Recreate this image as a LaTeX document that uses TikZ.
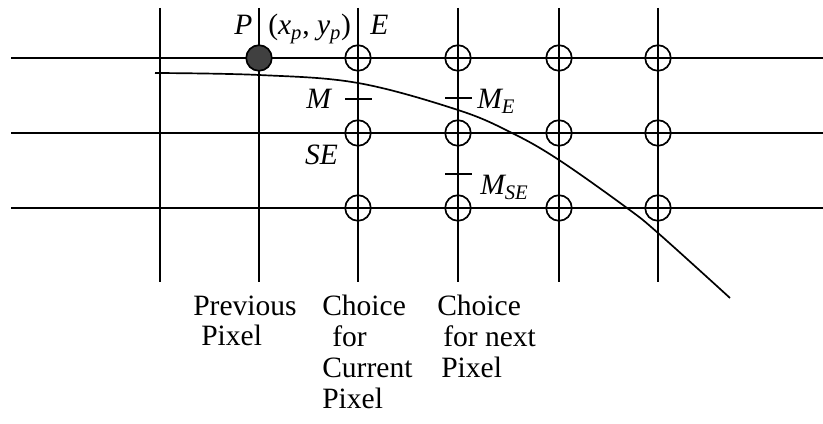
\documentclass[tikz,border=0pt]{standalone}
\usepackage{fontspec}
\setmainfont{Liberation Serif}
\usetikzlibrary{positioning}

\tikzset{
    grid line/.style={line width=1.2pt},
    pix/.style={circle, draw, line width=1.2pt, minimum size=0.64cm, inner sep=0pt},
    lbl/.style={inner sep=0pt, anchor=base west, font=\fontsize{21}{23}\selectfont\itshape},
    caption/.style={inner sep=0pt, anchor=north west, align=left, font=\fontsize{21}{22}\selectfont}
}

\begin{document}
\begin{tikzpicture}
    \useasboundingbox (0,0) rectangle (20.575,10.6);

    % --- 网格线 ---
    \foreach \y in {9.15, 7.275, 5.4}
        \draw[grid line] (0.28,\y) -- (20.575,\y);
    \foreach \x in {4, 6.475, 8.95, 11.45, 13.975, 16.45}
        \draw[grid line] (\x,10.4) -- (\x,3.55);

    % --- 像素点 ---
    \node[pix, fill=black!75] (prev) at (6.475, 9.15) {};
    \foreach \x [count=\i] in {8.95, 11.45, 13.975, 16.45}
        \foreach \y [count=\j] in {9.15, 7.275, 5.4}
            \node[pix] (c-\i-\j) at (\x,\y) {};

    % --- 中点刻度 ---
    \draw[grid line] (8.625, 8.125) -- (9.3, 8.125);
    \draw[grid line] (11.125, 8.15) -- (11.8, 8.15);
    \draw[grid line] (11.125, 6.25) -- (11.8, 6.25);

    % --- 曲线 ---
    \draw[grid line] plot[smooth, tension=0.6] coordinates {
        (3.875, 8.775) (6.475, 8.725) (8.95, 8.525) (11.45, 7.85)
        (12.8, 7.275) (13.975, 6.6) (15.675, 5.4) (16.45, 4.775) (18.25, 3.15)};

    % --- 标签 ---
    \node[lbl] (lP) at (5.85, 9.725) {P};
    \node[lbl] (lxy) at (6.7, 9.725) {\upshape(\textit{x}\textsubscript{\textit{p}}, \textit{y}\textsubscript{\textit{p}})};
    \node[lbl] (lE) at (9.25, 9.725) {E};
    \node[lbl] (lM) at (7.65, 7.875) {M};
    \node[lbl] (lME) at (11.925, 7.875) {M\textsubscript{E}};
    \node[lbl] (lSE) at (7.62, 6.475) {SE};
    \node[lbl] (lMSE) at (12.0, 5.725) {M\textsubscript{SE}};

    % --- 说明文字 ---
    \node[caption] (tprev) at (4.825, 3.22) {Previous\\\hspace{0.2cm}Pixel};
    \node[caption] (tcur) at (8.05, 3.22) {Choice\\\hspace{0.25cm}for\\Current\\Pixel};
    \node[caption] (tnext) at (10.925, 3.22) {Choice\\\hspace{0.15cm}for next\\\hspace{0.1cm}Pixel};
\end{tikzpicture}
\end{document}
